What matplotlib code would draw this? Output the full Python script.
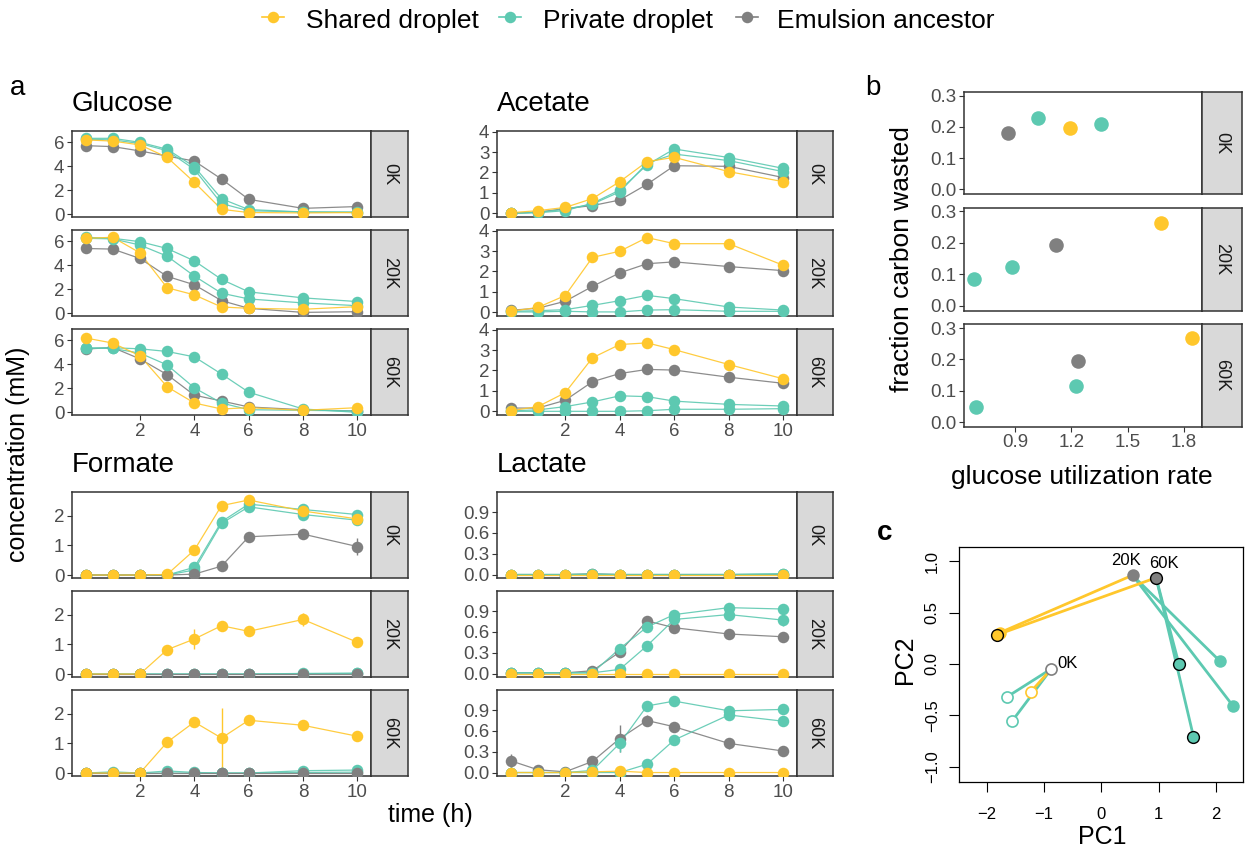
import matplotlib
matplotlib.use("Agg")
import matplotlib.pyplot as plt
from matplotlib.lines import Line2D
import numpy as np

plt.rcParams['font.family'] = ['Liberation Sans', 'DejaVu Sans']

W, H = 1246, 850

# ---- data -------------------------------------------------------------
time_h = [0, 1, 2, 3, 4, 5, 6, 8, 10]
generations = ['0K', '20K', '60K']

# concentrations (mM), one row per generation (0K, 20K, 60K)
glucose_shared = [
    [6.20, 6.10, 5.78, 4.75, 2.67, 0.42, 0.15, 0.12, 0.15],
    [6.25, 6.33, 5.04, 2.13, 1.54, 0.53, 0.42, 0.34, 0.56],
    [6.19, 5.77, 4.71, 2.13, 0.78, 0.28, 0.39, 0.17, 0.39],
]
glucose_private_a = [
    [6.33, 6.33, 6.00, 5.42, 3.97, 1.30, 0.40, 0.20, 0.20],
    [6.33, 6.25, 5.97, 5.40, 4.37, 2.83, 1.79, 1.29, 0.98],
    [5.35, 5.38, 5.29, 5.07, 4.62, 3.19, 1.68, 0.28, 0.00],
]
glucose_private_b = [
    [6.25, 6.20, 5.90, 5.30, 3.75, 0.90, 0.30, 0.20, 0.15],
    [6.25, 6.20, 5.69, 4.76, 3.11, 1.68, 1.20, 0.87, 0.64],
    [5.35, 5.32, 4.93, 3.95, 2.04, 0.78, 0.22, 0.17, 0.11],
]
glucose_ancestor = [
    [5.72, 5.64, 5.28, 4.85, 4.44, 2.94, 1.25, 0.50, 0.65],
    [5.40, 5.35, 4.57, 3.08, 2.38, 1.06, 0.42, 0.08, 0.14],
    [5.27, 5.40, 4.45, 3.14, 1.43, 0.95, 0.45, 0.22, 0.11],
]

acetate_shared = [
    [0.03, 0.13, 0.29, 0.72, 1.55, 2.53, 2.74, 2.04, 1.55],
    [0.05, 0.24, 0.82, 2.69, 2.99, 3.66, 3.36, 3.36, 2.30],
    [0.03, 0.23, 0.91, 2.62, 3.27, 3.35, 3.02, 2.29, 1.59],
]
acetate_private_a = [
    [0.00, 0.03, 0.13, 0.49, 1.14, 2.37, 3.15, 2.73, 2.20],
    [0.05, 0.08, 0.13, 0.34, 0.57, 0.83, 0.67, 0.26, 0.11],
    [0.03, 0.07, 0.23, 0.46, 0.76, 0.72, 0.50, 0.34, 0.26],
]
acetate_private_b = [
    [0.00, 0.05, 0.20, 0.45, 1.05, 2.45, 2.90, 2.58, 2.04],
    [0.02, 0.02, 0.05, 0.02, 0.02, 0.11, 0.13, 0.05, 0.05],
    [0.00, 0.00, 0.00, 0.00, 0.00, 0.03, 0.10, 0.10, 0.13],
]
acetate_ancestor = [
    [0.00, 0.06, 0.23, 0.38, 0.65, 1.42, 2.33, 2.30, 1.75],
    [0.10, 0.20, 0.54, 1.27, 1.93, 2.38, 2.47, 2.24, 2.04],
    [0.16, 0.16, 0.54, 1.45, 1.85, 2.05, 2.02, 1.67, 1.37],
]

formate_shared = [
    [0.00, 0.00, 0.00, 0.02, 0.84, 2.34, 2.53, 2.16, 1.89],
    [0.00, 0.00, 0.00, 0.82, 1.18, 1.63, 1.44, 1.84, 1.07],
    [0.00, 0.00, 0.00, 1.04, 1.72, 1.18, 1.78, 1.61, 1.24],
]
formate_private_a = [
    [0.00, 0.00, 0.00, 0.00, 0.26, 1.80, 2.39, 2.21, 2.04],
    [0.00, 0.00, 0.00, 0.00, 0.00, 0.00, 0.00, 0.02, 0.03],
    [0.00, 0.04, 0.00, 0.07, 0.02, 0.00, 0.00, 0.08, 0.10],
]
formate_private_b = [
    [0.00, 0.00, 0.00, 0.00, 0.17, 1.74, 2.30, 2.04, 1.85],
    [0.00, 0.00, 0.00, 0.00, 0.00, 0.00, 0.00, 0.01, 0.02],
    [0.00, 0.00, 0.00, 0.00, 0.00, 0.00, 0.00, 0.02, 0.03],
]
formate_ancestor = [
    [0.00, 0.00, 0.00, 0.00, 0.03, 0.30, 1.29, 1.38, 0.96],
    [0.00, 0.00, 0.00, 0.00, 0.00, 0.00, 0.00, 0.00, 0.00],
    [0.00, 0.00, 0.00, 0.00, 0.00, 0.00, 0.00, 0.00, 0.00],
]

lactate_shared = [
    [0.00, 0.00, 0.00, 0.00, 0.00, 0.00, 0.00, 0.00, 0.00],
    [0.00, 0.00, 0.00, 0.00, 0.00, 0.00, 0.00, 0.00, 0.00],
    [0.00, 0.00, 0.00, 0.01, 0.02, 0.00, 0.00, 0.00, 0.00],
]
lactate_private_a = [
    [0.00, 0.00, 0.00, 0.01, 0.00, 0.00, 0.00, 0.00, 0.01],
    [0.01, 0.01, 0.01, 0.01, 0.36, 0.67, 0.85, 0.95, 0.93],
    [0.00, 0.00, 0.00, 0.03, 0.42, 0.96, 1.03, 0.89, 0.91],
]
lactate_private_b = [
    [0.00, 0.00, 0.00, 0.00, 0.00, 0.00, 0.00, 0.00, 0.01],
    [0.01, 0.01, 0.01, 0.01, 0.06, 0.40, 0.78, 0.85, 0.77],
    [0.00, 0.00, 0.00, 0.00, 0.00, 0.12, 0.47, 0.83, 0.74],
]
lactate_ancestor = [
    [0.00, 0.00, 0.00, 0.01, 0.00, 0.00, 0.00, 0.00, 0.00],
    [0.01, 0.01, 0.01, 0.04, 0.31, 0.76, 0.66, 0.57, 0.53],
    [0.17, 0.04, 0.01, 0.16, 0.49, 0.75, 0.66, 0.42, 0.31],
]

# visible error bars (half widths)
formate_shared_err = [
    [0, 0, 0, 0, 0, 0, 0, 0, 0],
    [0, 0, 0, 0, 0.35, 0, 0, 0.22, 0],
    [0, 0, 0, 0, 0, 1.0, 0, 0, 0],
]
formate_ancestor_err = [
    [0, 0, 0, 0, 0, 0, 0, 0, 0.3],
    [0, 0, 0, 0, 0, 0, 0, 0, 0],
    [0, 0, 0, 0, 0, 0, 0, 0, 0],
]
lactate_ancestor_err = [
    [0, 0, 0, 0, 0, 0, 0, 0, 0],
    [0, 0, 0, 0, 0, 0, 0, 0, 0],
    [0.1, 0, 0, 0, 0.2, 0.08, 0, 0.08, 0],
]
lactate_private_a_err = [
    [0, 0, 0, 0, 0, 0, 0, 0, 0],
    [0, 0, 0, 0, 0, 0, 0, 0, 0.06],
    [0, 0, 0, 0, 0.12, 0.06, 0.06, 0, 0],
]
lactate_private_b_err = [
    [0, 0, 0, 0, 0, 0, 0, 0, 0],
    [0, 0, 0, 0, 0, 0, 0, 0, 0.08],
    [0, 0, 0, 0, 0, 0, 0, 0, 0],
]

# panel b: glucose utilization rate vs fraction carbon wasted
util_shared = [1.195, 1.675, 1.844]
waste_shared = [0.197, 0.263, 0.269]
util_private = [[1.024, 1.357], [0.882, 0.682], [1.224, 0.694]]
waste_private = [[0.228, 0.211], [0.124, 0.087], [0.114, 0.048]]
util_ancestor = [0.864, 1.119, 1.234]
waste_ancestor = [0.179, 0.193, 0.194]

# panel c: PCA
pc1_ancestor = [-0.870, 0.545, 0.957]
pc2_ancestor = [-0.046, 0.864, 0.840]
pc1_shared = [-1.23, -1.77, -1.83]
pc2_shared = [-0.27, 0.305, 0.282]
pc1_private = [[-1.64, -1.56], [2.075, 2.297], [1.354, 1.61]]
pc2_private = [[-0.318, -0.558], [0.026, -0.406], [0.003, -0.708]]

# ---- style ------------------------------------------------------------
YEL = '#FFC72C'
TEAL = '#5DC9B1'
GRAY = '#808080'
DARK = '#333333'
TICKTXT = '#4D4D4D'
STRIP = '#D9D9D9'

fig = plt.figure(figsize=(W / 100, H / 100), dpi=100)


def add_ax(l, t, r, b):
    return fig.add_axes([l / W, 1 - b / H, (r - l) / W, (b - t) / H])


def style_panel(ax):
    for s in ax.spines.values():
        s.set_color(DARK)
        s.set_linewidth(1.1)
    ax.tick_params(colors=DARK, labelcolor=TICKTXT, labelsize=13.5,
                   length=3.5, width=0.8, pad=2)


def add_strip(l, t, r, b, label):
    s = add_ax(l, t, r, b)
    s.set_facecolor(STRIP)
    s.set_xticks([])
    s.set_yticks([])
    for sp in s.spines.values():
        sp.set_color(DARK)
        sp.set_linewidth(1.1)
    s.text(0.5, 0.5, label, rotation=270, ha='center', va='center',
           fontsize=13, color='#1A1A1A', transform=s.transAxes)


zeros = [[0] * len(time_h)] * 3
metabolites = [
    ('Glucose', (72, 371, 408), [(131, 217), (230, 316), (329, 415)],
     (-0.22, 6.94), [0, 2, 4, 6], '{:.0f}',
     [(glucose_ancestor, zeros, GRAY), (glucose_private_a, zeros, TEAL),
      (glucose_private_b, zeros, TEAL), (glucose_shared, zeros, YEL)]),
    ('Acetate', (497, 797, 833), [(131, 217), (230, 316), (329, 415)],
     (-0.18, 4.03), [0, 1, 2, 3, 4], '{:.0f}',
     [(acetate_ancestor, zeros, GRAY), (acetate_private_a, zeros, TEAL),
      (acetate_private_b, zeros, TEAL), (acetate_shared, zeros, YEL)]),
    ('Formate', (72, 371, 408), [(492, 578), (591, 677), (690, 776)],
     (-0.1, 2.8), [0, 1, 2], '{:.0f}',
     [(formate_private_a, zeros, TEAL), (formate_private_b, zeros, TEAL),
      (formate_ancestor, formate_ancestor_err, GRAY),
      (formate_shared, formate_shared_err, YEL)]),
    ('Lactate', (497, 797, 833), [(492, 578), (591, 677), (690, 776)],
     (-0.05, 1.19), [0, 0.3, 0.6, 0.9], '{:.1f}',
     [(lactate_ancestor, lactate_ancestor_err, GRAY),
      (lactate_private_a, lactate_private_a_err, TEAL),
      (lactate_private_b, lactate_private_b_err, TEAL),
      (lactate_shared, zeros, YEL)]),
]

for name, (xl, xr, xs), rows, ylim, yticks, fmt, series in metabolites:
    for g, (top, bot) in enumerate(rows):
        ax = add_ax(xl, top, xr, bot)
        style_panel(ax)
        for vals, err, col in series:
            ax.plot(time_h, vals[g], color=col, lw=0.9, alpha=0.9, zorder=2)
            e = np.array(err[g], dtype=float)
            if e.any():
                m = e > 0
                ax.errorbar(np.array(time_h)[m], np.array(vals[g])[m],
                            yerr=e[m], fmt='none', ecolor=col,
                            elinewidth=1.0, zorder=2)
        for vals, err, col in series:
            ax.plot(time_h, vals[g], 'o', color=col, ms=8.3, mew=0, zorder=3)
        ax.set_xlim(-0.5, 10.5)
        ax.set_ylim(*ylim)
        ax.set_yticks(yticks)
        ax.set_yticklabels([fmt.format(v) for v in yticks])
        ax.set_xticks([2, 4, 6, 8, 10])
        if g < 2:
            ax.tick_params(axis='x', length=0, labelbottom=False)
        add_strip(xr, top, xs, bot, generations[g])
    fig.text(xl / W, 1 - (rows[0][0] - 20) / H, name, fontsize=20,
             ha='left', va='baseline')

fig.text(18 / W, 1 - 454 / H, 'concentration (mM)', rotation=90,
         fontsize=18, ha='center', va='center')
fig.text(430 / W, 1 - 815 / H, 'time (h)', fontsize=18,
         ha='center', va='center')

# ---- panel b ----------------------------------------------------------
b_rows = [(92, 194), (207.7, 310.7), (324.3, 426.7)]
for g, (top, bot) in enumerate(b_rows):
    ax = add_ax(963.7, top, 1201.7, bot)
    style_panel(ax)
    ax.scatter([util_ancestor[g]], [waste_ancestor[g]], s=110, color=GRAY,
               lw=0, zorder=3)
    ax.scatter(util_private[g], waste_private[g], s=110, color=TEAL,
               lw=0, zorder=3)
    ax.scatter([util_shared[g]], [waste_shared[g]], s=110, color=YEL,
               lw=0, zorder=3)
    ax.set_xlim(0.627, 1.894)
    ax.set_ylim(-0.015, 0.312)
    ax.set_yticks([0, 0.1, 0.2, 0.3])
    ax.set_yticklabels(['0.0', '0.1', '0.2', '0.3'])
    ax.set_xticks([0.9, 1.2, 1.5, 1.8])
    ax.set_xticklabels(['0.9', '1.2', '1.5', '1.8'])
    if g < 2:
        ax.tick_params(axis='x', length=0, labelbottom=False)
    add_strip(1201.7, top, 1242, bot, generations[g])

fig.text(902 / W, 1 - 259 / H, 'fraction carbon wasted', rotation=90,
         fontsize=19, ha='center', va='center')
fig.text(1082 / W, 1 - 477 / H, 'glucose utilization rate', fontsize=19,
         ha='center', va='center')

# ---- panel c ----------------------------------------------------------
axc = add_ax(959.3, 546.7, 1243.3, 782.3)
for g in range(3):
    ax0, ay0 = pc1_ancestor[g], pc2_ancestor[g]
    for px, py in zip(pc1_private[g], pc2_private[g]):
        axc.plot([ax0, px], [ay0, py], color=TEAL, lw=2, zorder=2)
    axc.plot([ax0, pc1_shared[g]], [ay0, pc2_shared[g]], color=YEL, lw=2,
             zorder=2)

pt_style = [
    dict(open=True, edge=None),      # 0K: open circles
    dict(open=False, edge=None),     # 20K: filled
    dict(open=False, edge='black'),  # 60K: filled, black outline
]
for g in range(3):
    st = pt_style[g]
    pts = [(pc1_private[g], pc2_private[g], TEAL),
           ([pc1_shared[g]], [pc2_shared[g]], YEL),
           ([pc1_ancestor[g]], [pc2_ancestor[g]], GRAY)]
    for xs, ys, col in pts:
        if st['open']:
            axc.plot(xs, ys, 'o', ms=8, mfc='white', mec=col, mew=1.2,
                     zorder=3)
        elif st['edge']:
            axc.plot(xs, ys, 'o', ms=8.5, mfc=col, mec='black', mew=1.0,
                     zorder=3)
        else:
            axc.plot(xs, ys, 'o', ms=9, mfc=col, mec=col, mew=0, zorder=3)

label_offsets = [(11.5, 4), (-4.5, 10.5), (5.5, 10)]
for g in range(3):
    axc.annotate(generations[g], (pc1_ancestor[g], pc2_ancestor[g]),
                 xytext=label_offsets[g], textcoords='offset points',
                 ha='center', va='center', fontsize=12)

axc.set_xlim(-2.48, 2.48)
axc.set_ylim(-1.152, 1.142)
axc.set_xticks([-2, -1, 0, 1, 2])
axc.set_xticklabels(['\u22122', '\u22121', '0', '1', '2'])
axc.set_yticks([-1.0, -0.5, 0.0, 0.5, 1.0])
axc.set_yticklabels(['\u22121.0', '\u22120.5', '0.0', '0.5', '1.0'],
                    rotation=90, va='center')
axc.tick_params(length=7, width=0.8, labelsize=12, colors='black')
axc.tick_params(axis='x', pad=11)
axc.tick_params(axis='y', pad=7)
for s in axc.spines.values():
    s.set_linewidth(0.9)
fig.text(1102 / W, 1 - 837 / H, 'PC1', fontsize=18, ha='center', va='center')
fig.text(905 / W, 1 - 660 / H, 'PC2', fontsize=18, rotation=90,
         ha='center', va='center')

# ---- panel letters ----------------------------------------------------
fig.text(10 / W, 1 - 88 / H, 'a', fontsize=20, ha='left', va='center')
fig.text(865 / W, 1 - 88 / H, 'b', fontsize=20, ha='left', va='center')
fig.text(885 / W, 1 - 533 / H, 'c', fontsize=20, fontweight='bold',
         ha='center', va='center')

# ---- legend -----------------------------------------------------------
legend_items = [('Shared droplet', YEL, 273, 306),
                ('Private droplet', TEAL, 510, 543),
                ('Emulsion ancestor', GRAY, 747, 777)]
ly = 1 - 17 / H
for lab, col, mx, tx in legend_items:
    fig.add_artist(Line2D([(mx - 11) / W, (mx + 11) / W], [ly, ly],
                          transform=fig.transFigure, color=col, lw=1.2))
    fig.add_artist(Line2D([mx / W], [ly], transform=fig.transFigure,
                          marker='o', ms=8.3, color=col, mew=0))
    fig.text(tx / W, 1 - 28 / H, lab, fontsize=19, ha='left', va='baseline')

fig.savefig('out.png', dpi=100)
